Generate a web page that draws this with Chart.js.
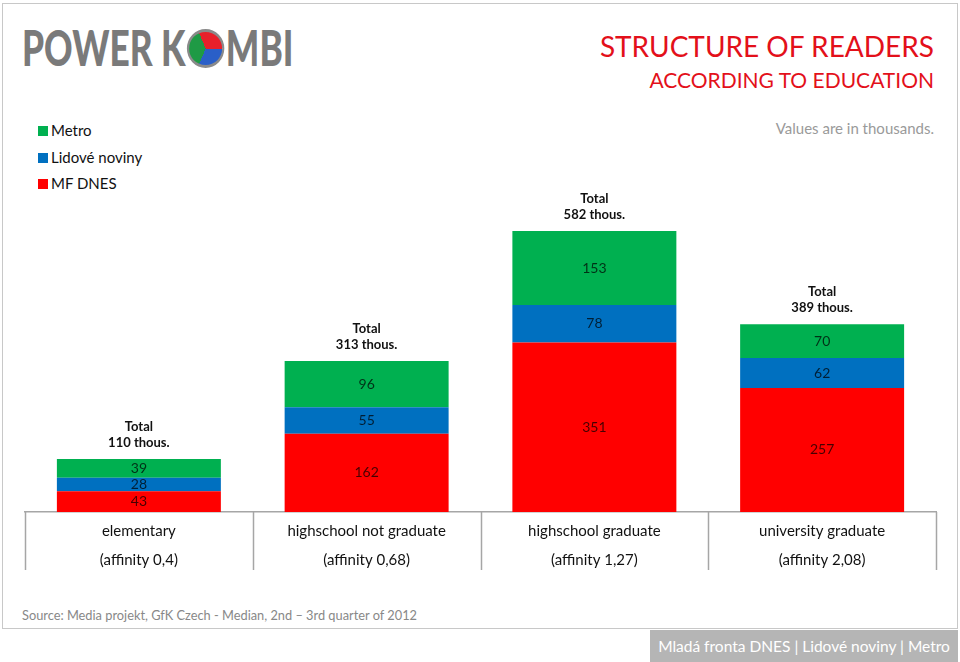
<!DOCTYPE html>
<html>
<head>
<meta charset="utf-8">
<script src="https://cdn.jsdelivr.net/npm/chart.js@4.4.1/dist/chart.umd.min.js"></script>
<style>
    body { margin: 0; width: 960px; height: 662px; overflow: hidden; background: #fff; font-family: Lato, "Open Sans", sans-serif; }
    #frame { position: absolute; left: 2px; top: 3px; width: 954px; height: 624px; border: 1px solid #c8c8c8; }
    #logo { position: absolute; left: 22px; top: 18px; font-family: Lato, sans-serif; font-weight: 900; font-size: 49px; color: #7a7a7a; white-space: nowrap; transform: scaleX(0.72); transform-origin: 0 0; }
    #logo .ball { display: inline-block; width: 46px; height: 33px; border-radius: 50%; vertical-align: -2px; margin: 0 2px;
        border: 3px solid #8a8a8a;
        background: conic-gradient(from -30deg, #e8202a 0deg 120deg, #2a5fc8 120deg 240deg, #1f9a45 240deg 360deg); }
    #title1 { position: absolute; right: 26px; top: 29px; color: #e3101a; font-size: 28px; }
    #title2 { position: absolute; right: 26px; top: 67px; color: #e3101a; font-size: 21px; }
    #note { position: absolute; right: 26px; top: 119px; color: #9a9a9a; font-size: 15px; }
    #legend { position: absolute; left: 38px; top: 120px; font-size: 15px; color: #111; }
    #legend div { height: 26.5px; line-height: 20px; }
    #legend span.sw { display: inline-block; width: 10px; height: 10px; margin-right: 3px; vertical-align: 0px; }
    #source { position: absolute; left: 22px; top: 607px; font-size: 12.8px; color: #888; }
    #footer { position: absolute; left: 650px; top: 630px; width: 308px; height: 32px; background: #b5b5b5; color: #fff; font-size: 15.5px; line-height: 32px; text-align: center; }
    #chart { position: absolute; left: 0; top: 0; }
</style>
</head>
<body>
<div id="frame"></div>
<div id="logo">POWER K<span class="ball"></span>MBI</div>
<div id="title1">STRUCTURE OF READERS</div>
<div id="title2">ACCORDING TO EDUCATION</div>
<div id="note">Values are in thousands.</div>
<div id="legend"></div>
<div id="source">Source: Media projekt, GfK Czech - Median, 2nd – 3rd quarter of 2012</div>
<div id="footer">Mladá fronta DNES | Lidové noviny | Metro</div>
<canvas id="chart" width="960" height="662"></canvas>
<script>
// data
const categories = ["elementary", "highschool not graduate", "highschool graduate", "university graduate"];
const affinity = ["(affinity 0,4)", "(affinity 0,68)", "(affinity 1,27)", "(affinity 2,08)"];
const mfDnes = [43, 162, 351, 257];
const lidoveNoviny = [28, 55, 78, 62];
const metro = [39, 96, 153, 70];

const seriesNames = ["MF DNES", "Lidové noviny", "Metro"];
const seriesColors = ["#ff0000", "#0070c0", "#00b050"];

// legend (top series first, like the original)
const legend = document.getElementById("legend");
[2, 1, 0].forEach(i => {
    const row = document.createElement("div");
    row.innerHTML = `<span class="sw" style="background:${seriesColors[i]}"></span>${seriesNames[i]}`;
    legend.appendChild(row);
});

const valueLabels = {
    id: "valueLabels",
    afterDatasetsDraw(chart) {
        const ctx = chart.ctx;
        ctx.save();
        ctx.textAlign = "center";
        ctx.textBaseline = "middle";
        ctx.font = "14px Lato, sans-serif";
        ctx.fillStyle = "rgba(0,0,0,0.72)";
        chart.data.datasets.forEach((ds, di) => {
            chart.getDatasetMeta(di).data.forEach((bar, i) => {
                ctx.fillText(String(ds.data[i]), bar.x, (bar.y + bar.base) / 2);
            });
        });
        // totals above the stacks
        const top = chart.getDatasetMeta(chart.data.datasets.length - 1).data;
        ctx.font = "bold 13px Lato, sans-serif";
        ctx.fillStyle = "#111";
        top.forEach((bar, i) => {
            const total = mfDnes[i] + lidoveNoviny[i] + metro[i];
            ctx.fillText("Total", bar.x, bar.y - 32);
            ctx.fillText(total + " thous.", bar.x, bar.y - 16);
        });
        ctx.restore();
    },
    afterDraw(chart) {
        // separators under the axis between categories
        const x = chart.scales.x;
        const ctx = chart.ctx;
        const n = categories.length;
        const step = (x.right - x.left) / n;
        ctx.save();
        ctx.strokeStyle = "#a6a6a6";
        ctx.lineWidth = 1.5;
        ctx.beginPath();
        for (let i = 0; i <= n; i++) {
            const px = Math.round(x.left + step * i) + 0.5;
            ctx.moveTo(px, x.top);
            ctx.lineTo(px, x.top + 58);
        }
        ctx.stroke();
        ctx.restore();
    }
};

new Chart(document.getElementById("chart"), {
    type: "bar",
    data: {
        labels: categories.map((c, i) => [c, affinity[i]]),
        datasets: [
            { label: seriesNames[0], data: mfDnes, backgroundColor: seriesColors[0] },
            { label: seriesNames[1], data: lidoveNoviny, backgroundColor: seriesColors[1] },
            { label: seriesNames[2], data: metro, backgroundColor: seriesColors[2] }
        ]
    },
    options: {
        responsive: false,
        animation: false,
        layout: { padding: { left: 25, right: 24, top: 150, bottom: 70 } },
        datasets: { bar: { categoryPercentage: 1, barPercentage: 0.72 } },
        plugins: { legend: { display: false }, tooltip: { enabled: false } },
        scales: {
            x: {
                stacked: true,
                grid: { display: false },
                border: { display: true, color: "#a6a6a6", width: 1.5 },
                ticks: { color: "#111", padding: -3, font: { family: "Lato, sans-serif", size: 15, lineHeight: 1.93 } },
                afterFit: (scale) => { scale.height = 80; }
            },
            y: {
                stacked: true,
                display: false,
                min: 0,
                max: 750
            }
        }
    },
    plugins: [valueLabels]
});
</script>
</body>
</html>
